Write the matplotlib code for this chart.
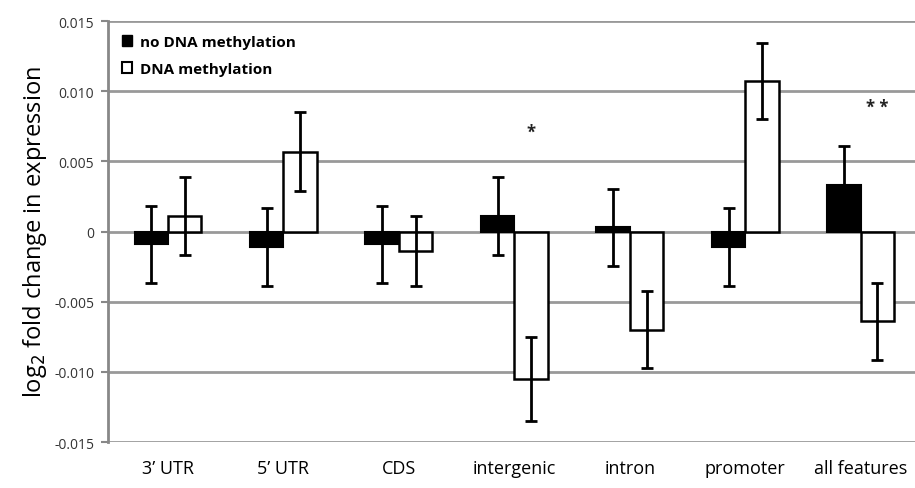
import matplotlib.pyplot as plt
from matplotlib.patches import Patch
import numpy as np

categories = ["3\u2019 UTR", "5\u2019 UTR", "CDS", "intergenic", "intron", "promoter", "all features"]
no_meth = [-0.0009, -0.0011, -0.0009, 0.0011, 0.0003, -0.0011, 0.0033]
no_meth_err = [0.00275, 0.00275, 0.00275, 0.00275, 0.00275, 0.00275, 0.0028]
meth = [0.0011, 0.0057, -0.0014, -0.0105, -0.0070, 0.0107, -0.0064]
meth_err = [0.00275, 0.0028, 0.0025, 0.003, 0.00275, 0.0027, 0.00275]
stars = {"intergenic": ("*", 0.0071), "all features": ("* *", 0.0089)}

plt.rcParams['font.family'] = ['Open Sans', 'DejaVu Sans']

fig = plt.figure(figsize=(9.15, 4.89), dpi=100)
ax = fig.add_axes([0.118, 0.094, 0.882, 0.861])

x = np.arange(len(categories))
w = 0.29
ekw = dict(ecolor='black', elinewidth=2, capsize=4, capthick=2)
ax.bar(x - w/2, no_meth, w, color='black', edgecolor='black', linewidth=1.5,
       yerr=no_meth_err, error_kw=ekw, zorder=3)
ax.bar(x + w/2, meth, w, color='white', edgecolor='black', linewidth=1.8,
       yerr=meth_err, error_kw=ekw, zorder=3)

for cat, (s, yv) in stars.items():
    i = categories.index(cat)
    ax.text(x[i] + w/2, yv, s, ha='center', va='center', fontsize=12,
            fontweight='bold', color='#222222')

ax.set_ylim(-0.015, 0.015)
ax.set_xlim(-0.52, 6.47)
ax.set_yticks(np.arange(-0.015, 0.0151, 0.005))
ax.set_yticklabels(['-0.015', '-0.010', '-0.005', '0', '0.005', '0.010', '0.015'])
ax.set_xticks(x)
ax.set_xticklabels(categories, fontsize=13)
ax.tick_params(axis='x', length=0, pad=12)
ax.tick_params(axis='y', labelsize=10, colors='#333333', length=5, width=1.5, color='#888888', pad=5)
ax.yaxis.grid(True, color='#999999', linewidth=2)
ax.set_axisbelow(True)
for s in ['top', 'right', 'bottom']:
    ax.spines[s].set_visible(False)
ax.spines['left'].set_color('#888888')
ax.spines['left'].set_linewidth(2)

ax.set_ylabel('log$_2$ fold change in expression', fontsize=17, labelpad=4)

handles = [Patch(facecolor='black', edgecolor='black'),
           Patch(facecolor='white', edgecolor='black', linewidth=1.5)]
ax.legend(handles, ['no DNA methylation', 'DNA methylation'], loc='upper left',
          frameon=False, prop={'weight': 'bold', 'size': 11}, handlelength=0.7,
          handleheight=0.7, handletextpad=0.5, labelspacing=0.85,
          bbox_to_anchor=(0.0, 1.0))

fig.savefig('out.png', dpi=100)
